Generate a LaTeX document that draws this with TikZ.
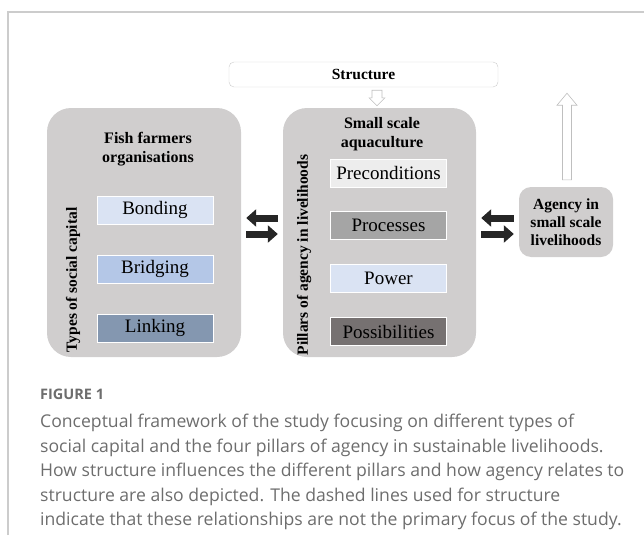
\documentclass[tikz,border=0pt]{standalone}
\usepackage{fontspec}
\setmainfont{Liberation Serif}
\newfontfamily\capfont{Open Sans}
\usetikzlibrary{arrows.meta,positioning,calc}
\definecolor{panelgrey}{HTML}{D0CECE}
\definecolor{bondblue}{HTML}{DAE3F3}
\definecolor{bridgeblue}{HTML}{B4C7E7}
\definecolor{linkblue}{HTML}{8497B0}
\definecolor{precgrey}{HTML}{EDEDED}
\definecolor{procgrey}{HTML}{A5A5A5}
\definecolor{possgrey}{HTML}{767171}
\definecolor{arrowdark}{HTML}{262626}
\definecolor{hollowgrey}{HTML}{BFBFBF}
\definecolor{framegrey}{HTML}{CCCCCC}
\definecolor{capgrey}{HTML}{6D6D6D}
\begin{document}
\begin{tikzpicture}[x=1pt,y=-1pt,
    panel/.style={fill=panelgrey, rounded corners=24pt, inner sep=0pt},
    item/.style={minimum width=116pt, minimum height=28pt, inner sep=0pt,
      draw=white, line width=0.6pt, font=\fontsize{19}{22}\selectfont},
    title/.style={font=\fontsize{16}{19}\selectfont\bfseries, align=center},
    sidelabel/.style={font=\fontsize{15.5}{18}\selectfont\bfseries, rotate=90},
    blockarrow/.style={draw=arrowdark, line width=7pt,
      -{Triangle[length=10pt,width=17pt]}, shorten <=5pt, shorten >=5pt},
    hollow/.style={draw=hollowgrey, fill=white, line width=0.6pt}]
  \useasboundingbox (0,0) rectangle (644,535);
  % frame
  \draw [framegrey, line width=1.2pt] (8,535) -- (8,12) -- (644,12);
  % structure
  \node [draw=framegrey, rounded corners=5pt, minimum width=269pt, minimum height=25pt,
    font=\fontsize{15.5}{18}\selectfont\bfseries] (structure) at (363.5,74.5) {Structure};
  % social capital
  \node [panel, minimum width=194pt, minimum height=249pt] (farmers) at (144,232.5) {};
  \node [title] (farmtitle) at (148,149) {Fish farmers\\organisations};
  \node [sidelabel] (types) at (73,280) {Types of social capital};
  \node [item, fill=bondblue] (bonding) at (155,210) {Bonding};
  \node [item, fill=bridgeblue] (bridging) at (155,269) {Bridging};
  \node [item, fill=linkblue] (linking) at (155,328) {Linking};
  % pillars of agency
  \node [panel, minimum width=193pt, minimum height=249pt] (aqua) at (379.5,232.5) {};
  \node [title] (aquatitle) at (382,134) {Small scale\\aquaculture};
  \node [sidelabel] (pillars) at (304,255) {Pillars of agency in livelihoods};
  \node [item, fill=precgrey] (precond) at (388.5,173) {Preconditions};
  \node [item, fill=procgrey] (process) at (388.5,225.5) {Processes};
  \node [item, fill=bondblue] (power) at (388.5,278) {Power};
  \node [item, fill=possgrey] (possib) at (388.5,331.5) {Possibilities};
  % agency
  \node [panel, rounded corners=12pt, minimum width=94pt, minimum height=70pt,
    font=\fontsize{15.5}{18}\selectfont\bfseries, align=center] (agency) at (566,222)
    {Agency in\\small scale\\livelihoods};
  % block arrows
  \draw [blockarrow] ([yshift=14.5pt]aqua.west) -- ([yshift=14.5pt]aqua.west -| farmers.east);
  \draw [blockarrow] ([yshift=-1.5pt]farmers.east) -- ([yshift=-1.5pt]farmers.east -| aqua.west);
  \draw [blockarrow] ([yshift=14.5pt]aqua.east -| agency.west) -- ([yshift=14.5pt]aqua.east);
  \draw [blockarrow] ([yshift=-1.5pt]aqua.east) -- ([yshift=-1.5pt]aqua.east -| agency.west);
  % hollow arrows
  \coordinate (dtop) at ([yshift=-3pt]structure.south -| 377,0);
  \coordinate (dtip) at ([yshift=2pt]aqua.north -| dtop);
  \draw [hollow] ([xshift=-5pt]dtop) -- ([xshift=5pt]dtop) -- ([xshift=5pt,yshift=8pt]dtip)
    -- ([xshift=8pt,yshift=8pt]dtip) -- (dtip) -- ([xshift=-8pt,yshift=8pt]dtip)
    -- ([xshift=-5pt,yshift=8pt]dtip) -- cycle;
  \coordinate (utail) at ([xshift=1pt,yshift=7pt]agency.north);
  \coordinate (utip) at ([yshift=-6pt]structure.south -| utail);
  \draw [hollow] ([xshift=-4.5pt]utail) -- ([xshift=4.5pt]utail) -- ([xshift=4.5pt,yshift=-12pt]utip)
    -- ([xshift=10pt,yshift=-12pt]utip) -- (utip) -- ([xshift=-10pt,yshift=-12pt]utip)
    -- ([xshift=-4.5pt,yshift=-12pt]utip) -- cycle;
  % caption
  \node [anchor=base west, inner sep=0pt, text=capgrey,
    font=\capfont\bfseries\fontsize{14.5}{17}\selectfont] (figlabel) at (40,399) {FIGURE 1};
  \node [anchor=base west, inner sep=0pt, text=capgrey, align=left,
    font=\capfont\fontsize{17.6}{24.4}\selectfont] (caption) at (40,525.5)
    {Conceptual framework of the study focusing on different types of\\
     social capital and the four pillars of agency in sustainable livelihoods.\\
     How structure influences the different pillars and how agency relates to\\
     structure are also depicted. The dashed lines used for structure\\
     indicate that these relationships are not the primary focus of the study.};
\end{tikzpicture}
\end{document}
